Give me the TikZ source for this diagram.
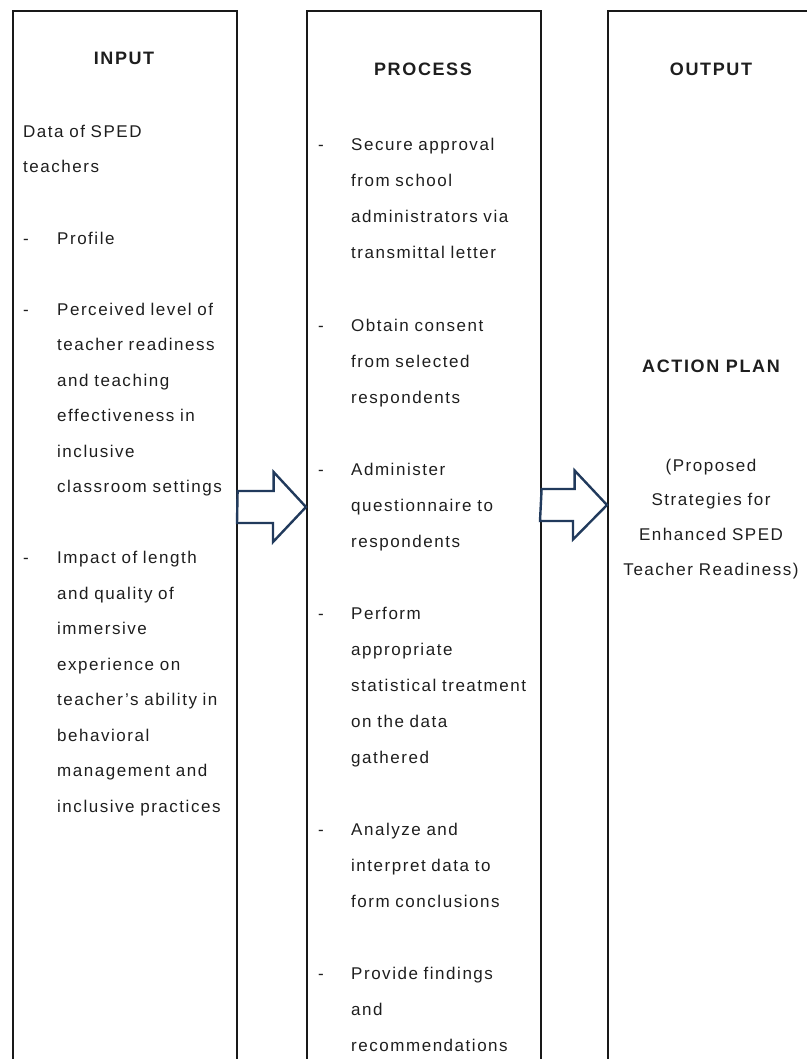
\documentclass[tikz,border=0pt]{standalone}
\usepackage{fontspec}
\setmainfont{Liberation Sans}[LetterSpace=9]
\usepackage{tikz}
\definecolor{ink}{RGB}{30,30,30}
\definecolor{arrowblue}{RGB}{33,58,92}

\begin{document}
\begin{tikzpicture}[x=1pt,y=-1pt,
  col/.style={draw=black!90, line width=1.6pt, anchor=north west, minimum height=1090, inner sep=0},
  head/.style={font=\fontsize{18}{20}\selectfont\bfseries, text=ink, anchor=base},
  body/.style={font=\fontsize{17}{#1}\selectfont, text=ink, anchor=base west, align=left, inner sep=0, text width=190},
  body/.default=35.5,
  bul/.style={font=\fontsize{17}{20}\selectfont, text=ink, anchor=base west, inner sep=0},
  blockarr/.style={draw=arrowblue, line width=2.4pt, fill=white, line join=miter}]
  \useasboundingbox (0,0) rectangle (806,1059);
  % three columns, open at the bottom (output also runs off at the right)
  \node[col, minimum width=224] (in) at (12,10) {};
  \node[col, minimum width=234] (proc) at (306,10) {};
  \node[col, minimum width=208] (out) at (607,10) {};
  % input
  \node[head] (inhead) at (124,65) {INPUT};
  \node[body] (data) at (23,137.5) {Data of SPED\\teachers};
  \node[bul] (ib1) at (23,244) {-};
  \node[body] (profile) at (57,244) {Profile};
  \node[bul] (ib2) at (23,315) {-};
  \node[body] (perceived) at (57,315) {Perceived level of\\teacher readiness\\and teaching\\effectiveness in\\inclusive\\classroom settings};
  \node[bul] (ib3) at (23,563.5) {-};
  \node[body] (impact) at (57,563.5) {Impact of length\\and quality of\\immersive\\experience on\\teacher's ability in\\behavioral\\management and\\inclusive practices};
  % process
  \node[head] (prochead) at (423,76) {PROCESS};
  \node[bul] (pb1) at (318,151) {-};
  \node[body=36] (approval) at (351,151) {Secure approval\\from school\\administrators via\\transmittal letter};
  \node[bul] (pb2) at (318,331) {-};
  \node[body=36] (consent) at (351,331) {Obtain consent\\from selected\\respondents};
  \node[bul] (pb3) at (318,475) {-};
  \node[body=36] (quest) at (351,475) {Administer\\questionnaire to\\respondents};
  \node[bul] (pb4) at (318,619) {-};
  \node[body=36] (treat) at (351,619) {Perform\\appropriate\\statistical treatment\\on the data\\gathered};
  \node[bul] (pb5) at (318,835) {-};
  \node[body=36] (analyze) at (351,835) {Analyze and\\interpret data to\\form conclusions};
  \node[bul] (pb6) at (318,979) {-};
  \node[body=36] (findings) at (351,979) {Provide findings\\and\\recommendations};
  % output
  \node[head] (outhead) at (711,76) {OUTPUT};
  \node[head] (plan) at (711,372) {ACTION PLAN};
  \node[body=34.7, align=center, anchor=base] (strat) at (711,471) {(Proposed\\Strategies for\\Enhanced SPED\\Teacher Readiness)};
  % block arrows between the columns
  \coordinate (a1) at (0,507);
  \coordinate (a2) at (0,505);
  \draw[blockarr] (in.east |- a1) ++(0,-16) -- ++(36,0) -- ++(0,-19) -- (proc.west |- a1)
    -- ++(-33,35) -- ++(0,-19) -- ++(-36,0) -- cycle;
  \draw[blockarr] (proc.east |- a2) ++(0,-16) -- ++(33,0) -- ++(0,-18.5) -- (out.west |- a2)
    -- ++(-34,34.5) -- ++(0,-18.5) -- ++(-33,0) -- cycle;
\end{tikzpicture}
\end{document}
